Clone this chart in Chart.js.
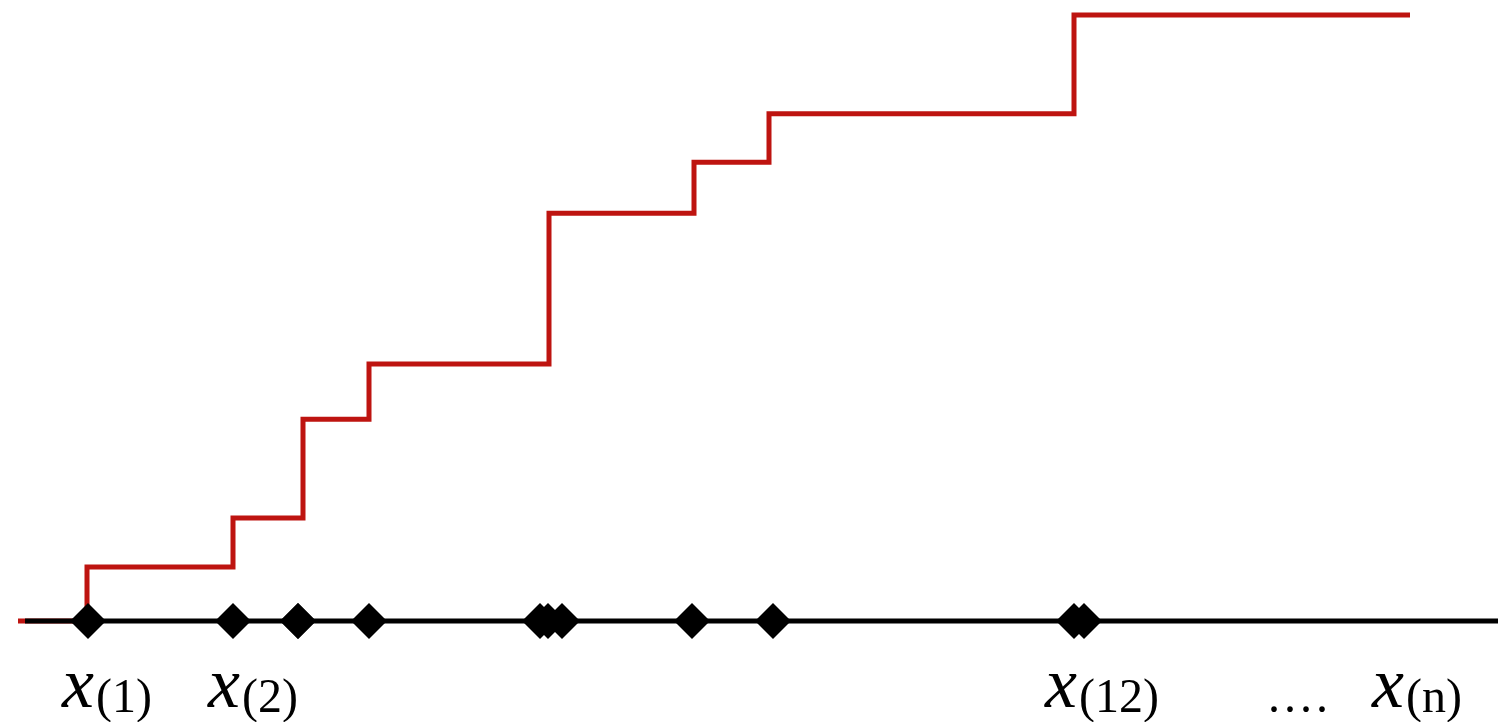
<!DOCTYPE html>
<html>
<head>
<meta charset="utf-8">
<script src="https://cdn.jsdelivr.net/npm/chart.js@4"></script>
<style>
	html, body { margin: 0; padding: 0; background: #fff; }
	#wrap { width: 1498px; height: 722px; }
</style>
</head>
<body>
<div id="wrap"><canvas id="chart" width="1498" height="722"></canvas></div>
<script>
'use strict';

// sorted sample values x(1) .. x(12), in the drawing's horizontal units
var sampleX = [88, 233, 298, 298, 369, 540, 548, 562, 692, 773, 1074, 1084];

// empirical distribution function: where it jumps and the level after each jump
var stepX = [18, 87, 233, 303, 369, 549, 694, 769, 1074, 1410];
var stepY = [0, 0.089, 0.170, 0.333, 0.424, 0.673, 0.757, 0.837, 1, 1];

// the number line
var axisX = [25, 1498];

// labels under the line
var labelAt = [62, 208, 1045, 1268, 1372];
var labelMain = ['x', 'x', 'x', '', 'x'];
var labelSub = ['(1)', '(2)', '(12)', '....', '(n)'];

function toPoints(xs, ys) {
	var out = [];
	for (var i = 0; i < xs.length; i++) {
		out.push({x: xs[i], y: ys === null ? 0 : ys[i]});
	}
	return out;
}

var labelPlugin = {
	id: 'labels',
	afterDraw: function(chart) {
		var ctx = chart.ctx;
		var xScale = chart.scales.x;
		var yScale = chart.scales.y;
		var base = yScale.getPixelForValue(0);
		ctx.save();
		ctx.fillStyle = '#000';
		ctx.textBaseline = 'alphabetic';
		ctx.textAlign = 'left';
		for (var i = 0; i < labelAt.length; i++) {
			var px = xScale.getPixelForValue(labelAt[i]);
			if (labelMain[i]) {
				ctx.font = 'italic 72px "Liberation Serif", "DejaVu Serif", serif';
				ctx.letterSpacing = '0px';
				ctx.fillText(labelMain[i], px, base + 86);
				px += ctx.measureText(labelMain[i]).width + 2;
				ctx.font = '48px "Liberation Serif", "DejaVu Serif", serif';
			} else {
				ctx.font = '48px "Liberation Serif", "DejaVu Serif", serif';
				ctx.letterSpacing = '4px';
			}
			ctx.fillText(labelSub[i], px, base + 91);
			ctx.letterSpacing = '0px';
		}
		ctx.restore();
	}
};

var config = {
	type: 'scatter',
	data: {
		datasets: [{
			label: 'sample',
			data: toPoints(sampleX, null),
			showLine: false,
			pointStyle: 'rectRot',
			pointRadius: 18,
			pointBorderWidth: 0,
			pointBackgroundColor: '#000',
			pointBorderColor: '#000',
			clip: false,
			order: 0
		}, {
			label: 'axis',
			data: toPoints(axisX, null),
			showLine: true,
			borderColor: '#000',
			borderWidth: 5,
			pointRadius: 0,
			clip: false,
			order: 1
		}, {
			label: 'ecdf',
			data: toPoints(stepX, stepY),
			showLine: true,
			stepped: 'before',
			borderColor: '#be1410',
			borderWidth: 5,
			borderJoinStyle: 'miter',
			borderCapStyle: 'butt',
			pointRadius: 0,
			clip: false,
			order: 2
		}]
	},
	options: {
		responsive: false,
		animation: false,
		layout: {autoPadding: false, padding: {left: 0, right: 0, top: 15, bottom: 101}},
		plugins: {
			legend: {display: false},
			tooltip: {enabled: false}
		},
		scales: {
			x: {type: 'linear', min: 0, max: 1498, display: false},
			y: {type: 'linear', min: 0, max: 1, display: false}
		}
	},
	plugins: [labelPlugin]
};

new Chart(document.getElementById('chart').getContext('2d'), config);
</script>
</body>
</html>
